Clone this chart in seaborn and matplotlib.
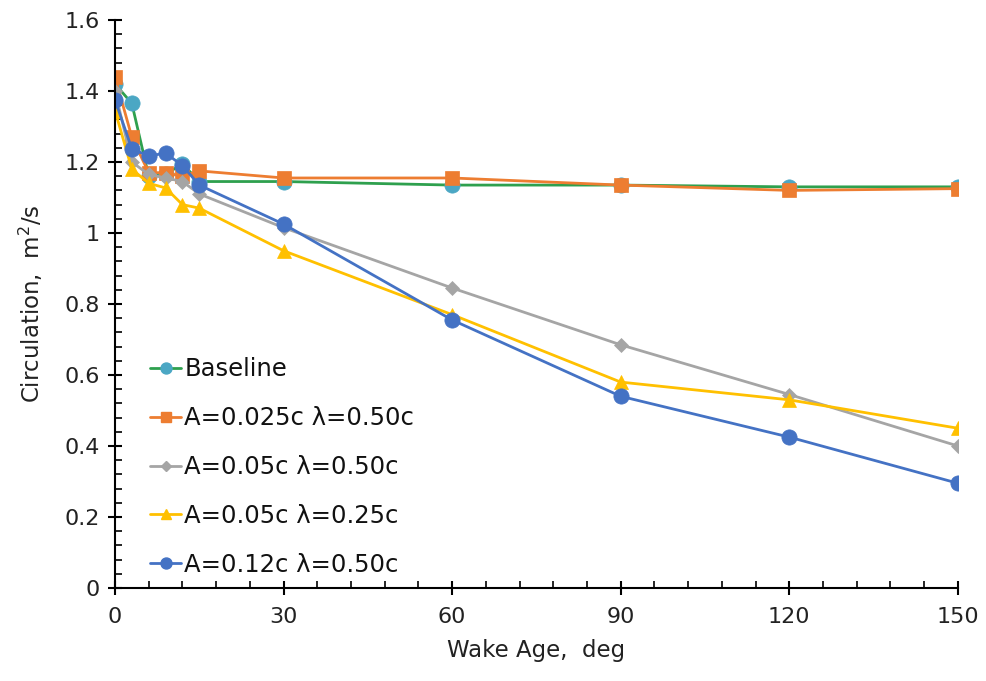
import numpy as np
import pandas as pd
import matplotlib
matplotlib.use("Agg")
import matplotlib.pyplot as plt
import seaborn as sns
from matplotlib.ticker import MultipleLocator
from matplotlib.lines import Line2D

wake_age = [0, 3, 6, 9, 12, 15, 30, 60, 90, 120, 150]
baseline = [1.42, 1.365, 1.16, 1.165, 1.195, 1.145, 1.145, 1.135, 1.135, 1.13, 1.13]
a025_l50 = [1.44, 1.27, 1.17, 1.17, 1.16, 1.175, 1.155, 1.155, 1.135, 1.12, 1.125]
a05_l50 = [1.40, 1.20, 1.165, 1.155, 1.145, 1.11, 1.015, 0.845, 0.685, 0.545, 0.40]
a05_l25 = [1.345, 1.18, 1.14, 1.127, 1.08, 1.07, 0.95, 0.77, 0.58, 0.53, 0.45]
a12_l50 = [1.375, 1.237, 1.217, 1.225, 1.19, 1.135, 1.025, 0.755, 0.54, 0.425, 0.295]

labels = ["Baseline", "A=0.025c λ=0.50c", "A=0.05c λ=0.50c",
          "A=0.05c λ=0.25c", "A=0.12c λ=0.50c"]
series = [baseline, a025_l50, a05_l50, a05_l25, a12_l50]

line_colors = ["#2EA04E", "#ED7D31", "#A5A5A5", "#FFC000", "#4472C4"]
marker_colors = ["#4BA7C4", "#ED7D31", "#A5A5A5", "#FFC000", "#4472C4"]
markers = ["o", "s", "D", "^", "o"]
msizes = [11, 10.5, 7, 10, 11]

sns.set_theme(style="white")
plt.rcParams["font.family"] = ["DejaVu Sans"]

fig = plt.figure(figsize=(9.87, 6.81), dpi=100)
ax = fig.add_axes([0.1165, 0.1366, 0.854, 0.834])

handles = []
for lab, ys, lc, mc, mk, ms in zip(labels, series, line_colors, marker_colors, markers, msizes):
    df = pd.DataFrame({"x": wake_age, "y": ys})
    sns.lineplot(data=df, x="x", y="y", ax=ax, color=lc, linewidth=2.0,
                 marker=mk, markersize=ms, markerfacecolor=mc,
                 markeredgecolor=mc, markeredgewidth=0.5, legend=False)
    handles.append(Line2D([], [], color=lc, linewidth=2.0, marker=mk,
                          markersize=ms * 0.72, markerfacecolor=mc, markeredgecolor=mc))

ax.set_xlim(0, 150)
ax.set_ylim(0, 1.6)
ax.xaxis.set_major_locator(MultipleLocator(30))
ax.xaxis.set_minor_locator(MultipleLocator(6))
ax.yaxis.set_major_locator(MultipleLocator(0.2))
ax.yaxis.set_minor_locator(MultipleLocator(0.04))
ax.yaxis.set_major_formatter(plt.FuncFormatter(
    lambda v, p: "0" if abs(v) < 1e-9 else f"{v:.1f}".rstrip("0").rstrip(".")))

for s in ["top", "right"]:
    ax.spines[s].set_visible(False)
for s in ["left", "bottom"]:
    ax.spines[s].set_color("black")
    ax.spines[s].set_linewidth(1.5)
ax.tick_params(axis="both", which="major", direction="inout", length=10, width=1.5,
               labelsize=16, colors="black", pad=6, left=True, bottom=True)
ax.tick_params(axis="both", which="minor", direction="in", length=5, width=1.2,
               colors="black", left=True, bottom=True)
ax.tick_params(axis="x", which="major", pad=9)
for t in ax.get_xticklabels() + ax.get_yticklabels():
    t.set_color("#222222")

ax.set_xlabel("Wake Age,  deg", fontsize=16.5, labelpad=8, color="#222222")
ax.set_ylabel("Circulation,  m$^2$/s", fontsize=16.5, labelpad=14, color="#222222")

leg = ax.legend(handles, labels, loc="lower left", bbox_to_anchor=(0.042, 0.02),
                frameon=False, fontsize=17.5, handlelength=1.25, handletextpad=0.15,
                labelspacing=1.02, borderpad=0, borderaxespad=0)
for t in leg.get_texts():
    t.set_color("#111111")

fig.savefig("out.png", dpi=100, facecolor="white")
